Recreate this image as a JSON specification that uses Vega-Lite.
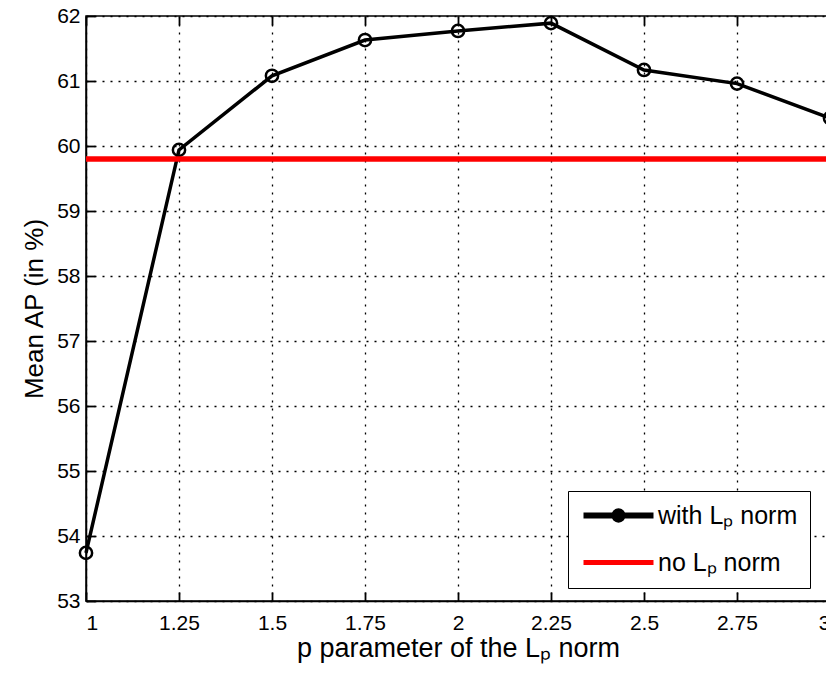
{
  "$schema": "https://vega.github.io/schema/vega-lite/v6.json",
  "autosize": {"type": "none"},
  "width": 744,
  "height": 585,
  "padding": {"left": 86, "top": 16, "right": 0, "bottom": 74},
  "background": "white",
  "config": {
    "font": "Liberation Sans",
    "view": {"stroke": "black", "strokeWidth": 1.5},
    "axis": {
      "domainColor": "black", "domainWidth": 1.5,
      "gridColor": "black", "gridDash": [2, 6], "gridWidth": 1.3, "gridOpacity": 1,
      "tickColor": "black", "tickSize": -9, "tickWidth": 1.8,
      "labelColor": "black", "labelFontSize": 21, "labelFont": "Liberation Sans",
      "titleFontSize": 26, "titleFontWeight": "normal", "titleColor": "black", "titleFont": "Liberation Sans"
    }
  },
  "resolve": {"axis": {"x": "independent"}},
  "datasets": {
    "withLp": [
      {"p": 1, "ap": 53.74, "series": "with Lₚ norm"},
      {"p": 1.25, "ap": 59.94, "series": "with Lₚ norm"},
      {"p": 1.5, "ap": 61.08, "series": "with Lₚ norm"},
      {"p": 1.75, "ap": 61.63, "series": "with Lₚ norm"},
      {"p": 2, "ap": 61.77, "series": "with Lₚ norm"},
      {"p": 2.25, "ap": 61.89, "series": "with Lₚ norm"},
      {"p": 2.5, "ap": 61.17, "series": "with Lₚ norm"},
      {"p": 2.75, "ap": 60.96, "series": "with Lₚ norm"},
      {"p": 3, "ap": 60.43, "series": "with Lₚ norm"}
    ],
    "noLp": [{"series": "no Lₚ norm", "ap": 59.8}]
  },
  "layer": [
    {
      "data": {"name": "withLp"},
      "mark": {"type": "line", "strokeWidth": 3.5},
      "encoding": {
        "x": {
          "field": "p", "type": "quantitative",
          "scale": {"domain": [1, 3], "nice": false, "zero": false},
          "axis": {"values": [1, 1.25, 1.5, 1.75, 2, 2.25, 2.5, 2.75, 3], "labelExpr": "'' + datum.value", "title": "p parameter of the Lₚ norm", "titleFontSize": 27, "labelPadding": 20, "titlePadding": 2}
        },
        "y": {
          "field": "ap", "type": "quantitative",
          "scale": {"domain": [53, 62], "nice": false, "zero": false},
          "axis": {"values": [53, 54, 55, 56, 57, 58, 59, 60, 61, 62], "format": "d", "title": "Mean AP (in %)", "labelPadding": 15, "titlePadding": 9}
        },
        "color": {
          "field": "series", "type": "nominal",
          "scale": {"domain": ["with Lₚ norm", "no Lₚ norm"], "range": ["black", "#ff0000"]},
          "legend": {
            "orient": "none", "legendX": 482, "legendY": 475, "title": null,
            "strokeColor": "black", "fillColor": "white", "padding": 12,
            "labelFontSize": 25, "labelFont": "Liberation Sans", "labelColor": "black",
            "symbolSize": 196, "rowPadding": 18, "symbolOffset": 26, "labelOffset": 27,
            "encode": {
              "symbols": {
                "update": {
                  "shape": {"signal": "datum.index === 0 ? 'M-5,0L-0.6,0M0.6,0L5,0M-0.6,0A0.6,0.6 0 1,1 0.6,0A0.6,0.6 0 1,1 -0.6,0' : 'M-5,0L5,0'"},
                  "strokeWidth": {"signal": "datum.index === 0 ? 6 : 5"},
                  "fill": {"signal": "datum.index === 0 ? 'black' : 'transparent'"}
                }
              }
            }
          }
        }
      }
    },
    {
      "data": {"name": "withLp"},
      "mark": {"type": "point", "shape": "circle", "filled": false, "size": 150, "strokeWidth": 2.5, "color": "black", "opacity": 1},
      "encoding": {
        "x": {
          "field": "p", "type": "quantitative",
          "axis": {"orient": "top", "values": [1, 1.25, 1.5, 1.75, 2, 2.25, 2.5, 2.75, 3], "labels": false, "title": null, "grid": false, "domain": false}
        },
        "y": {"field": "ap", "type": "quantitative"}
      }
    },
    {
      "data": {"name": "noLp"},
      "mark": {"type": "rule", "strokeWidth": 5.5},
      "encoding": {
        "y": {"field": "ap", "type": "quantitative"},
        "color": {"field": "series", "type": "nominal"}
      }
    }
  ]
}
